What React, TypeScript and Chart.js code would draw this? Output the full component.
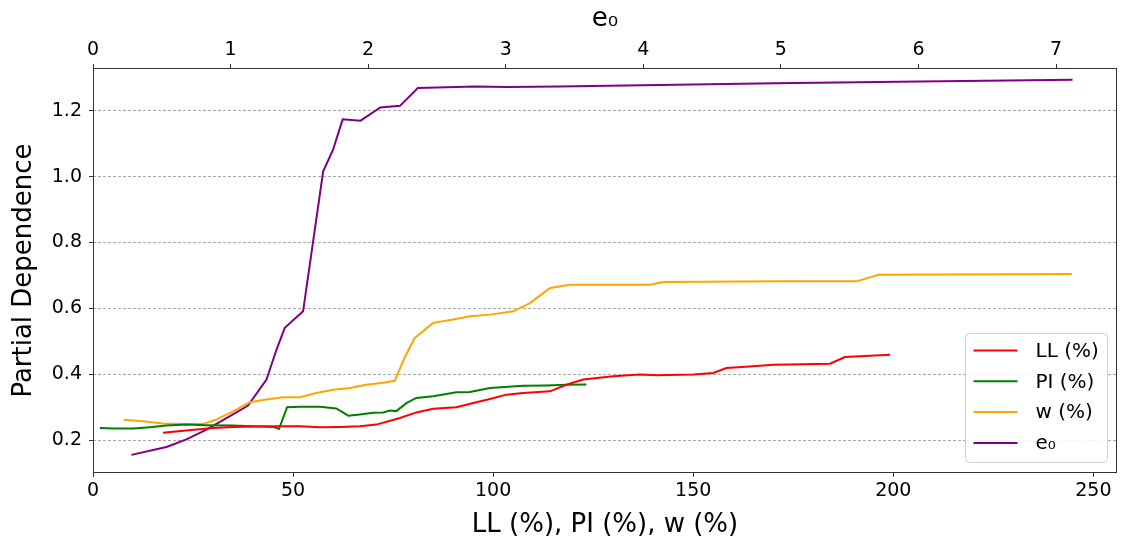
import React, { useEffect, useRef } from 'react';
import { Chart, registerables } from 'chart.js';

Chart.register(...registerables);

const FONT = "'DejaVu Sans', 'Liberation Sans', sans-serif";

// LL (%) – bottom axis
const llX = [17.5, 23.3, 30, 35, 43.3, 51.7, 56.7, 61.7, 66.7, 70.8, 76.7, 80.8, 85, 90.8, 95.8, 99.2, 103.3, 107.5, 114.2, 118.3, 122.5, 130, 136.7, 140.8, 150, 155, 158.3, 165, 170, 184.2, 187.9, 199.2];
const llY = [0.222, 0.229, 0.237, 0.240, 0.242, 0.242, 0.239, 0.240, 0.242, 0.247, 0.267, 0.284, 0.295, 0.300, 0.315, 0.325, 0.338, 0.343, 0.348, 0.368, 0.384, 0.394, 0.399, 0.397, 0.399, 0.404, 0.419, 0.424, 0.429, 0.432, 0.452, 0.459];

// PI (%) – bottom axis
const piX = [1.7, 5, 10, 14.2, 18.3, 23.3, 28.3, 35, 40, 45, 46.5, 48.5, 51.7, 56.7, 60.8, 63.8, 66.7, 70, 72.5, 74.2, 75.8, 78.4, 80.8, 85, 90.8, 94.2, 99.2, 107.5, 113.3, 118.3, 123.3];
const piY = [0.237, 0.235, 0.235, 0.239, 0.244, 0.247, 0.245, 0.244, 0.242, 0.240, 0.234, 0.300, 0.301, 0.301, 0.296, 0.274, 0.278, 0.283, 0.284, 0.290, 0.288, 0.313, 0.328, 0.333, 0.345, 0.346, 0.358, 0.365, 0.366, 0.368, 0.369];

// w (%) – bottom axis
const wX = [7.7, 12.5, 17.5, 22.5, 27.5, 30.8, 35, 39.2, 43.3, 47.5, 51.7, 55.8, 60, 64.2, 68.3, 72.5, 75.4, 78, 80.4, 85, 90, 94.2, 99.2, 105, 109.2, 114.2, 119.2, 130, 139.2, 142.5, 171.7, 190.8, 196.3, 244.6];
const wY = [0.262, 0.257, 0.250, 0.249, 0.249, 0.262, 0.287, 0.315, 0.323, 0.330, 0.330, 0.343, 0.353, 0.358, 0.368, 0.374, 0.380, 0.454, 0.510, 0.556, 0.566, 0.576, 0.581, 0.591, 0.616, 0.662, 0.672, 0.672, 0.672, 0.680, 0.682, 0.682, 0.702, 0.704];

// e0 – top axis
const e0X = [0.279, 0.534, 0.679, 0.825, 0.970, 1.127, 1.261, 1.334, 1.394, 1.527, 1.673, 1.745, 1.815, 1.945, 2.088, 2.231, 2.361, 2.776, 3.009, 3.39, 4.96, 6.01, 7.12];
const e0Y = [0.155, 0.179, 0.202, 0.232, 0.267, 0.305, 0.384, 0.475, 0.541, 0.591, 1.016, 1.082, 1.174, 1.170, 1.210, 1.215, 1.269, 1.274, 1.272, 1.274, 1.284, 1.289, 1.294];

const yTicks = [0.2, 0.4, 0.6, 0.8, 1.0, 1.2];
const bottomTicks = [0, 50, 100, 150, 200, 250];
const topTicks = [0, 1, 2, 3, 4, 5, 6, 7];
const seriesLabels = ['LL (%)', 'PI (%)', 'w (%)', 'e\u2080'];
const seriesColors = ['#ff0000', '#008000', '#ffa500', '#800080'];

const pts = (xs: number[], ys: number[]) => xs.map((x, i) => ({ x, y: ys[i] }));

const decorPlugin = {
  id: 'decor',
  afterDraw(chart: any) {
    const { ctx, chartArea } = chart;
    const l = Math.round(chartArea.left) + 0.5;
    const r = Math.round(chartArea.right) - 0.5;
    const t = Math.round(chartArea.top) + 0.5;
    const b = Math.round(chartArea.bottom) - 0.5;
    ctx.save();
    ctx.strokeStyle = '#333333';
    ctx.lineWidth = 1;
    ctx.strokeRect(l, t, r - l, b - t);

    // legend
    const w = 142, h = 129;
    const x0 = Math.round(chartArea.right - 10 - w) + 0.5;
    const y0 = Math.round(chartArea.bottom - 11 - h) + 0.5;
    ctx.beginPath();
    if ((ctx as any).roundRect) (ctx as any).roundRect(x0, y0, w, h, 4);
    else ctx.rect(x0, y0, w, h);
    ctx.fillStyle = 'rgba(255,255,255,0.85)';
    ctx.fill();
    ctx.strokeStyle = '#d0d0d0';
    ctx.stroke();
    ctx.font = `20px ${FONT}`;
    ctx.textBaseline = 'middle';
    ctx.textAlign = 'left';
    chart.data.datasets.forEach((ds: any, i: number) => {
      const cy = y0 + 17 + i * 30.8;
      ctx.beginPath();
      ctx.strokeStyle = ds.borderColor;
      ctx.lineWidth = 2;
      ctx.moveTo(x0 + 8, cy);
      ctx.lineTo(x0 + 52, cy);
      ctx.stroke();
      ctx.fillStyle = '#000';
      ctx.fillText(ds.label, x0 + 70, cy + 1);
    });
    ctx.restore();
  },
};

export default function App() {
  const ref = useRef<HTMLCanvasElement>(null);
  useEffect(() => {
    const tickFont = { family: FONT, size: 19 };
    const titleFont = { family: FONT, size: 26 };
    const datasets = [
      { label: seriesLabels[0], data: pts(llX, llY), borderColor: seriesColors[0], xAxisID: 'x', yAxisID: 'y' },
      { label: seriesLabels[1], data: pts(piX, piY), borderColor: seriesColors[1], xAxisID: 'x', yAxisID: 'y' },
      { label: seriesLabels[2], data: pts(wX, wY), borderColor: seriesColors[2], xAxisID: 'x', yAxisID: 'y' },
      { label: seriesLabels[3], data: pts(e0X, e0Y), borderColor: seriesColors[3], xAxisID: 'xTop', yAxisID: 'y' },
    ].map((d) => ({ ...d, backgroundColor: d.borderColor, borderWidth: 2, pointRadius: 0, tension: 0, fill: false }));

    const chart = new Chart(ref.current as HTMLCanvasElement, {
      type: 'line',
      data: { datasets } as any,
      options: {
        responsive: false,
        animation: false,
        layout: { padding: { left: 0, top: 0, right: 7, bottom: 0 } },
        plugins: { legend: { display: false }, tooltip: { enabled: false } },
        scales: {
          x: {
            type: 'linear',
            position: 'bottom',
            min: 0,
            max: 255.9,
            afterBuildTicks: (s: any) => { s.ticks = bottomTicks.map((v) => ({ value: v })); },
            afterFit: (s: any) => { s.height = 71; },
            ticks: { font: tickFont, color: '#000', padding: 3, maxRotation: 0, autoSkip: false, callback: (v: any) => String(v) },
            grid: { drawOnChartArea: false, drawTicks: true, tickLength: 4, tickColor: '#333', tickWidth: 1 },
            border: { display: false },
            title: { display: true, text: 'LL (%), PI (%), w (%)', font: titleFont, color: '#000', padding: { top: 0, bottom: 3.4 } },
          },
          xTop: {
            type: 'linear',
            position: 'top',
            min: 0,
            max: 7.443,
            afterBuildTicks: (s: any) => { s.ticks = topTicks.map((v) => ({ value: v })); },
            afterFit: (s: any) => { s.height = 68; },
            ticks: { font: tickFont, color: '#000', padding: 3, maxRotation: 0, autoSkip: false, callback: (v: any) => String(v) },
            grid: { drawOnChartArea: false, drawTicks: true, tickLength: 4, tickColor: '#333', tickWidth: 1 },
            border: { display: false },
            title: { display: true, text: 'e\u2080', font: titleFont, color: '#000', padding: { top: 3.4, bottom: 0 } },
          },
          y: {
            type: 'linear',
            position: 'left',
            min: 0.1,
            max: 1.33,
            afterBuildTicks: (s: any) => { s.ticks = yTicks.map((v) => ({ value: v })); },
            afterFit: (s: any) => { s.width = 93; },
            ticks: { font: tickFont, color: '#000', padding: 7, callback: (v: any) => Number(v).toFixed(1) },
            grid: { drawOnChartArea: true, drawTicks: true, tickLength: 4, color: '#a8a8a8', lineWidth: 1, tickColor: '#333', tickWidth: 1, tickBorderDash: [] },
            border: { display: false, dash: [3, 2] },
            title: { display: true, text: 'Partial Dependence', font: titleFont, color: '#000', padding: { top: 8.4, bottom: 0 } },
          },
        },
      } as any,
      plugins: [decorPlugin],
    });
    return () => chart.destroy();
  }, []);

  return (
    <div style={{ position: 'absolute', left: 0, top: 0, width: 1124, height: 544, background: '#fff' }}>
      <canvas ref={ref} width={1124} height={544} style={{ display: 'block', width: 1124, height: 544 }} />
    </div>
  );
}
